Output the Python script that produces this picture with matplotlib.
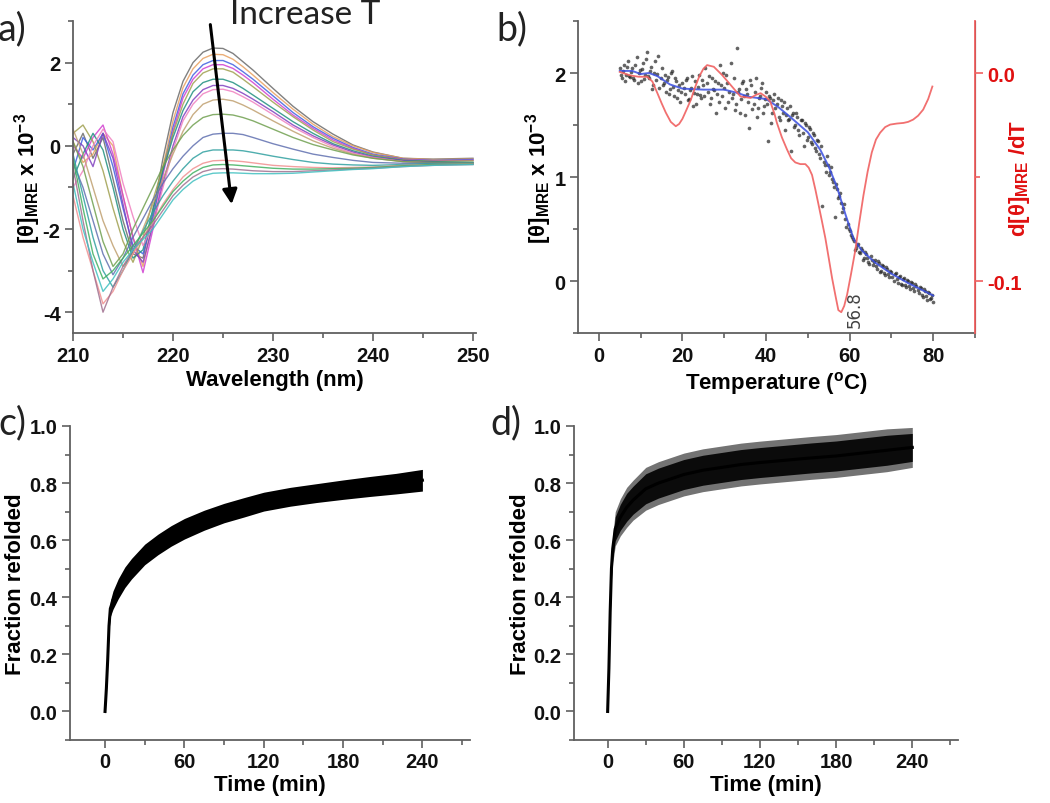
import numpy as np
import matplotlib
matplotlib.use("Agg")
import matplotlib.pyplot as plt
from matplotlib.ticker import MultipleLocator, FormatStrFormatter

plt.rcParams['font.family'] = ['Liberation Sans', 'DejaVu Sans']
plt.rcParams['mathtext.fontset'] = 'custom'
plt.rcParams['mathtext.rm'] = 'Liberation Sans'
plt.rcParams['mathtext.bf'] = 'Liberation Sans:bold'
plt.rcParams['mathtext.default'] = 'bf'
plt.rcParams['axes.unicode_minus'] = False

# ---------------- Panel a: CD spectra ----------------
wavelength = [210, 211, 212, 213, 214, 215, 216, 217, 218, 219, 220, 221, 222, 223,
              224, 225, 226, 227, 228, 230, 232, 234, 236, 238, 240, 243, 246, 250]
spec01 = [-0.2, 0.3, -0.3, 0.2, -0.8, -1.8, -2.6, -2.7, -1.6, -0.3, 0.8, 1.55, 2.0, 2.25, 2.35, 2.34, 2.22, 2.02, 1.82, 1.38, 0.95, 0.58, 0.28, 0.02, -0.15, -0.3, -0.32, -0.3]
spec02 = [0.1, -0.4, -0.2, 0.3, 0.0, -1.2, -2.2, -2.9, -1.8, -0.5, 0.6, 1.4, 1.85, 2.1, 2.2, 2.19, 2.08, 1.9, 1.7, 1.28, 0.88, 0.52, 0.22, 0.0, -0.16, -0.3, -0.33, -0.32]
spec03 = [-0.6, 0.2, -0.1, 0.3, -0.5, -1.5, -2.4, -2.6, -1.7, -0.6, 0.45, 1.25, 1.7, 1.95, 2.05, 2.05, 1.95, 1.78, 1.6, 1.2, 0.8, 0.46, 0.18, -0.04, -0.2, -0.32, -0.35, -0.33]
spec04 = [0.0, -0.3, 0.2, 0.5, -0.2, -1.2, -2.2, -3.05, -2.0, -0.7, 0.35, 1.15, 1.6, 1.85, 1.95, 1.95, 1.86, 1.7, 1.52, 1.12, 0.74, 0.42, 0.14, -0.06, -0.22, -0.33, -0.36, -0.35]
spec05 = [0.3, 0.5, 0.1, -0.6, -1.5, -2.3, -2.8, -2.2, -1.3, -0.5, 0.3, 1.0, 1.5, 1.75, 1.85, 1.85, 1.77, 1.6, 1.42, 1.05, 0.7, 0.38, 0.1, -0.08, -0.22, -0.34, -0.37, -0.36]
spec06 = [-0.8, -0.2, 0.3, -0.1, -1.0, -2.0, -2.7, -2.5, -1.5, -0.6, 0.2, 0.85, 1.3, 1.52, 1.6, 1.6, 1.52, 1.38, 1.22, 0.9, 0.58, 0.3, 0.05, -0.12, -0.25, -0.35, -0.38, -0.4]
spec07 = [0.2, 0.0, -0.5, 0.3, -0.3, -1.4, -2.5, -2.8, -1.9, -0.9, 0.0, 0.7, 1.1, 1.35, 1.45, 1.45, 1.38, 1.26, 1.12, 0.82, 0.5, 0.24, 0.02, -0.15, -0.27, -0.36, -0.4, -0.42]
spec08 = [-1.0, -0.6, 0.0, 0.4, 0.1, -0.9, -1.7, -2.4, -1.9, -1.0, -0.1, 0.6, 1.0, 1.25, 1.35, 1.36, 1.3, 1.18, 1.05, 0.75, 0.45, 0.2, -0.02, -0.18, -0.28, -0.38, -0.42, -0.44]
spec09 = [0.4, -0.2, -1.0, -1.8, -2.4, -2.9, -2.6, -2.0, -1.4, -0.8, -0.2, 0.35, 0.75, 1.0, 1.1, 1.12, 1.08, 0.98, 0.86, 0.6, 0.35, 0.12, -0.06, -0.2, -0.3, -0.38, -0.42, -0.43]
spec10 = [0.1, -0.5, -1.4, -2.3, -2.9, -2.6, -2.0, -1.5, -1.0, -0.5, -0.1, 0.25, 0.5, 0.68, 0.75, 0.76, 0.74, 0.68, 0.6, 0.4, 0.2, 0.03, -0.1, -0.22, -0.3, -0.38, -0.4, -0.4]
spec11 = [-0.4, -1.0, -1.8, -2.6, -3.1, -2.7, -2.2, -1.75, -1.3, -0.9, -0.55, -0.25, 0.0, 0.2, 0.28, 0.3, 0.3, 0.27, 0.2, 0.05, -0.08, -0.2, -0.28, -0.35, -0.4, -0.42, -0.42, -0.42]
spec12 = [-0.2, -1.2, -2.2, -3.0, -3.4, -3.0, -2.5, -2.05, -1.6, -1.2, -0.85, -0.55, -0.3, -0.15, -0.1, -0.1, -0.1, -0.12, -0.16, -0.25, -0.33, -0.4, -0.44, -0.46, -0.47, -0.45, -0.43, -0.42]
spec13 = [-1.2, -2.2, -3.0, -3.8, -3.5, -3.0, -2.6, -2.2, -1.8, -1.4, -1.05, -0.75, -0.55, -0.42, -0.36, -0.35, -0.36, -0.38, -0.41, -0.47, -0.5, -0.52, -0.53, -0.52, -0.51, -0.47, -0.45, -0.43]
spec14 = [-0.3, -1.5, -2.6, -3.2, -3.0, -2.7, -2.4, -2.1, -1.8, -1.45, -1.1, -0.85, -0.65, -0.52, -0.46, -0.45, -0.46, -0.48, -0.5, -0.54, -0.56, -0.56, -0.55, -0.54, -0.52, -0.48, -0.45, -0.44]
spec15 = [-0.5, -1.8, -3.0, -4.0, -3.4, -2.9, -2.5, -2.2, -1.9, -1.55, -1.2, -0.95, -0.75, -0.62, -0.56, -0.55, -0.56, -0.58, -0.6, -0.62, -0.62, -0.6, -0.58, -0.56, -0.54, -0.5, -0.47, -0.45]
spec16 = [-0.9, -2.0, -2.8, -3.5, -3.2, -2.8, -2.5, -2.25, -2.0, -1.65, -1.3, -1.05, -0.85, -0.72, -0.66, -0.65, -0.65, -0.66, -0.67, -0.67, -0.66, -0.63, -0.6, -0.57, -0.55, -0.5, -0.47, -0.45]
spectra = [spec01, spec02, spec03, spec04, spec05, spec06, spec07, spec08,
           spec09, spec10, spec11, spec12, spec13, spec14, spec15, spec16]
spec_colors = ['#6a6a6a', '#e8a060', '#4060e0', '#d040d0', '#a0a050', '#209080',
               '#8040c0', '#f080c0', '#c0a070', '#70a050', '#6070b0', '#30a0a0',
               '#f09090', '#40b060', '#a07090', '#40c0c0']

# ---------------- Panel b: thermal melt ----------------
melt_T1 = np.arange(5, 80.01, 0.5)
melt_vals1 = [2.05, 1.95, 2.08, 1.98, 2.12, 1.96, 2.05, 1.93, 2.15, 2.00,
              1.92, 2.10, 1.98, 2.20, 1.95, 2.06, 1.88, 2.12, 1.99, 1.86,
              2.05, 1.90, 1.82, 1.96, 1.85, 2.02, 1.78, 1.92, 1.84, 1.72,
              1.90, 1.80, 1.95, 1.75, 1.86, 1.68, 1.92, 1.80, 1.98, 1.76,
              1.88, 2.05, 1.82, 1.70, 1.95, 1.84, 1.62, 1.90, 2.08, 1.78,
              1.86, 1.98, 1.72, 2.10, 1.80, 1.64, 2.24, 1.85, 1.75, 1.92,
              1.60, 1.80, 1.47, 1.88, 1.70, 1.95, 1.66, 1.78, 1.90, 1.68,
              1.82, 1.35, 1.76, 1.62, 1.80, 1.70, 1.58, 1.74, 1.62, 1.45,
              1.66, 1.56, 1.25, 1.62, 1.50, 1.58, 1.40, 1.55, 1.30, 1.50,
              1.38, 1.46, 1.32, 1.40, 1.25, 1.35, 1.18, 0.72, 1.12, 1.20,
              1.02, 1.10, 0.95, 0.62, 0.88, 0.82, 0.75, 0.70, 0.60, 0.55,
              0.48, 0.42, 0.38, 0.32, 0.36, 0.27, 0.30, 0.22, 0.26, 0.18,
              0.24, 0.15, 0.20, 0.12, 0.17, 0.10, 0.14, 0.06, 0.12, 0.04,
              0.09, 0.00, 0.08, -0.02, 0.05, -0.04, 0.03, -0.06, 0.00, -0.08,
              -0.02, -0.10, -0.05, -0.12, -0.07, -0.15, -0.10, -0.18, -0.12, -0.16,
              -0.20]
melt_T2 = np.arange(5.25, 79.8, 0.5)
melt_vals2 = [1.98, 2.02, 1.92, 2.06, 1.97, 2.01, 1.95, 2.08, 1.90, 2.03,
              2.04, 1.94, 2.13, 1.97, 2.02, 1.85, 2.00, 1.93, 2.16, 1.95,
              1.88, 1.98, 1.93, 1.80, 2.00, 1.87, 1.95, 1.76, 1.88, 1.82,
              1.86, 1.93, 1.74, 1.84, 1.97, 1.81, 1.70, 1.87, 1.79, 1.93,
              1.78, 1.90, 1.97, 1.76, 1.85, 1.92, 1.80, 1.72, 1.88, 2.00,
              1.66, 1.90, 1.82, 1.76, 1.95, 1.70, 1.82, 1.62, 1.90, 1.78,
              1.85, 1.72, 1.93, 1.65, 1.82, 1.58, 1.76, 1.86, 1.62, 1.75,
              1.70, 1.78, 1.52, 1.74, 1.66, 1.76, 1.55, 1.68, 1.72, 1.60,
              1.55, 1.68, 1.60, 1.48, 1.62, 1.45, 1.55, 1.42, 1.52, 1.36,
              1.48, 1.34, 1.42, 1.28, 1.36, 1.22, 1.30, 1.14, 1.05, 1.12,
              1.05, 0.98, 0.90, 0.93, 0.80, 0.85, 0.66, 0.74, 0.52, 0.50,
              0.44, 0.40, 0.30, 0.35, 0.28, 0.32, 0.20, 0.28, 0.22, 0.16,
              0.20, 0.18, 0.14, 0.19, 0.09, 0.15, 0.08, 0.13, 0.07, 0.10,
              0.04, 0.07, 0.02, 0.04, -0.03, 0.02, -0.04, 0.01, -0.05, -0.01,
              -0.07, -0.03, -0.09, -0.06, -0.13, -0.08, -0.14, -0.11, -0.17, -0.13]
fit_T = [5, 8, 10, 12, 14, 17, 20, 25, 30, 33, 36, 40, 43, 46, 50, 53, 55, 57, 59,
         61, 63, 66, 70, 74, 78, 80]
fit_vals = [2.02, 2.02, 1.99, 2.0, 1.97, 1.89, 1.85, 1.84, 1.84, 1.81, 1.77, 1.75,
            1.67, 1.57, 1.43, 1.26, 1.1, 0.9, 0.64, 0.4, 0.29, 0.18, 0.07, -0.02,
            -0.1, -0.14]
deriv_T = [5.0, 6.0, 7.6, 9.5, 11.6, 12.8, 14.0, 15.0, 16.0, 17.2, 18.4, 19.2, 20.0,
           21.0, 22.0, 23.0, 24.0, 25.0, 25.9, 27.5, 29.5, 31.5, 33.9, 36.3, 37.6,
           38.7, 40.0, 41.0, 42.0, 42.6, 43.8, 45.0, 46.0, 47.0, 48.2, 49.4, 50.2,
           51.0, 51.8, 52.6, 53.4, 54.2, 55.0, 55.8, 56.7, 57.3, 58.0, 58.7, 59.4,
           60.3, 61.3, 62.3, 63.3, 64.3, 65.3, 66.3, 67.3, 68.5, 69.7, 71.3, 72.9,
           74.0, 75.2, 76.4, 77.6, 78.8, 79.8]
deriv_vals = [0.0005, -0.0002, -0.0012, -0.0018, -0.0018, -0.0041, -0.0097, -0.0145,
              -0.019, -0.0235, -0.0256, -0.0245, -0.022, -0.0175, -0.0129, -0.007,
              -0.0017, 0.002, 0.0038, 0.003, -0.001, -0.0057, -0.0113, -0.012,
              -0.0105, -0.0097, -0.0115, -0.0137, -0.0195, -0.024, -0.031, -0.0367,
              -0.041, -0.043, -0.0438, -0.0438, -0.0455, -0.049, -0.056, -0.0637,
              -0.0715, -0.0795, -0.089, -0.0986, -0.108, -0.114, -0.115, -0.112,
              -0.1065, -0.097, -0.0859, -0.072, -0.0589, -0.0475, -0.0382, -0.032,
              -0.0287, -0.026, -0.0248, -0.0243, -0.024, -0.0235, -0.0224, -0.0205,
              -0.0176, -0.0125, -0.0065]
tm_value = 56.8

# ---------------- Panels c, d: refolding kinetics ----------------
time_min = [0, 1, 2, 3, 4, 6, 10, 15, 20, 30, 40, 50, 60, 75, 90, 105, 120, 140,
            160, 180, 200, 220, 240]
c_center = [0.0, 0.08, 0.18, 0.30, 0.36, 0.39, 0.43, 0.47, 0.50, 0.55, 0.585, 0.615,
            0.64, 0.67, 0.695, 0.715, 0.735, 0.752, 0.765, 0.777, 0.788, 0.798, 0.81]
c_halfwidth = [0.01, 0.012, 0.015, 0.02, 0.028, 0.032, 0.035, 0.036, 0.036, 0.036,
               0.036, 0.036, 0.036, 0.035, 0.034, 0.034, 0.033, 0.033, 0.033, 0.034,
               0.035, 0.036, 0.038]
d_center = [0.0, 0.15, 0.35, 0.50, 0.57, 0.64, 0.68, 0.715, 0.74, 0.78, 0.80, 0.815,
            0.83, 0.845, 0.855, 0.865, 0.872, 0.88, 0.888, 0.895, 0.905, 0.915, 0.925]
d_halfwidth = [0.01, 0.02, 0.03, 0.04, 0.05, 0.06, 0.065, 0.07, 0.07, 0.075, 0.075,
               0.075, 0.075, 0.075, 0.075, 0.075, 0.075, 0.075, 0.075, 0.075, 0.075,
               0.075, 0.07]

W, H = 1050, 804
fig = plt.figure(figsize=(W / 100, H / 100), dpi=100)

def px_axes(l, t, r, b):
    return fig.add_axes([l / W, 1 - b / H, (r - l) / W, (b - t) / H])

SP = '#606060'
TFS = 14.5
LFS = 16

def style(ax, right=False):
    ax.spines['top'].set_visible(False)
    if not right:
        ax.spines['right'].set_visible(False)
    for s in ('left', 'bottom'):
        ax.spines[s].set_color(SP)
        ax.spines[s].set_linewidth(1.3)
    ax.tick_params(which='both', direction='out', color=SP, width=1.2)
    ax.tick_params(which='major', length=6, labelsize=TFS, labelcolor='#111111', pad=3)
    ax.tick_params(which='minor', length=3.5)
    for lab in ax.get_xticklabels() + ax.get_yticklabels():
        lab.set_fontweight('bold')

# ---- a ----
axa = px_axes(73, 22, 476, 334)
for y, c in zip(spectra, spec_colors):
    axa.plot(wavelength, y, color=c, lw=1.0, alpha=0.85)
axa.set_xlim(210, 250.3)
axa.set_ylim(-4.5, 3.0)
axa.xaxis.set_major_locator(MultipleLocator(10))
axa.xaxis.set_minor_locator(MultipleLocator(5))
axa.yaxis.set_major_locator(MultipleLocator(2))
axa.yaxis.set_minor_locator(MultipleLocator(1))
style(axa)
axa.set_xlabel('Wavelength (nm)', fontsize=LFS, fontweight='bold', labelpad=3)
axa.set_ylabel(r'[θ]$_{MRE}$ x 10$^{-3}$', fontsize=LFS, fontweight='bold')
axa.yaxis.set_label_coords((43 - 73) / 403, 0.5)
axa.annotate('', xy=(225.9, -1.47), xytext=(223.7, 2.98),
             arrowprops=dict(arrowstyle='-|>', color='black', lw=2.2,
                             mutation_scale=22), annotation_clip=False)

# ---- b ----
axb = px_axes(578, 22, 975, 334)
axb.scatter(melt_T1, melt_vals1, s=7, color='#222222', alpha=0.7, linewidths=0, zorder=2)
axb.scatter(melt_T2, melt_vals2, s=7, color='#222222', alpha=0.7, linewidths=0, zorder=2)
axb.plot(fit_T, fit_vals, color='#3a4ee0', lw=1.4, alpha=0.85, zorder=3)
axb.set_xlim(-5, 90)
axb.set_ylim(-0.5, 2.5)
axb.xaxis.set_major_locator(MultipleLocator(20))
axb.xaxis.set_minor_locator(MultipleLocator(10))
axb.yaxis.set_major_locator(MultipleLocator(1))
axb.yaxis.set_minor_locator(MultipleLocator(0.5))
style(axb, right=True)
axb.set_xlabel(r'Temperature ($^{o}$C)', fontsize=LFS, fontweight='bold', labelpad=3)
axb.set_ylabel(r'[θ]$_{MRE}$ x 10$^{-3}$', fontsize=LFS, fontweight='bold')
axb.yaxis.set_label_coords((554 - 578) / 397, 0.5)
axb.text(61.3, -0.27, '%.1f' % tm_value, rotation=90, fontsize=12, color='#444444',
         ha='center', va='center', family='DejaVu Sans')

axr = axb.twinx()
axr.plot(deriv_T, deriv_vals, color='#f06060', lw=1.3, alpha=0.9)
axr.set_ylim(-0.125, 0.025)
axr.yaxis.set_major_locator(MultipleLocator(0.1))
axr.yaxis.set_minor_locator(MultipleLocator(0.05))
for s in ('top', 'left', 'bottom'):
    axr.spines[s].set_visible(False)
axr.spines['right'].set_color('#f06060')
axr.spines['right'].set_linewidth(1.3)
axr.tick_params(which='both', direction='out', color='#f06060', width=1.2)
axr.tick_params(which='major', length=6, labelsize=TFS, labelcolor='#e01010', pad=3)
axr.tick_params(which='minor', length=3.5)
axr.yaxis.set_major_formatter(FormatStrFormatter('%.1f'))
for lab in axr.get_yticklabels():
    lab.set_fontweight('bold')
axr.set_ylabel(r'd[θ]$_{MRE}$ /dT', fontsize=LFS, fontweight='bold', color='#e01010',
               rotation=90)
axr.yaxis.set_label_coords((1007 - 578) / 397, 0.5)

# ---- c, d ----
def kinetics(ax, center, half, dense, lab_x):
    lo = [c - h for c, h in zip(center, half)]
    hi = [c + h for c, h in zip(center, half)]
    if dense:
        ax.fill_between(time_min, lo, hi, color='black', lw=0)
    else:
        ax.fill_between(time_min, lo, hi, color='black', alpha=0.55, lw=0)
        lo2 = [c - 0.7 * h for c, h in zip(center, half)]
        hi2 = [c + 0.7 * h for c, h in zip(center, half)]
        ax.fill_between(time_min, lo2, hi2, color='black', alpha=0.9, lw=0)
    ax.plot(time_min, center, color='black', lw=2.2)
    ax.set_xlim(-26.5, 276)
    ax.set_ylim(-0.1, 1.0)
    ax.xaxis.set_major_locator(MultipleLocator(60))
    ax.xaxis.set_minor_locator(MultipleLocator(30))
    ax.yaxis.set_major_locator(MultipleLocator(0.2))
    ax.yaxis.set_minor_locator(MultipleLocator(0.1))
    ax.yaxis.set_major_formatter(FormatStrFormatter('%.1f'))
    style(ax)
    ax.set_xlabel('Time (min)', fontsize=LFS, fontweight='bold', labelpad=2)
    ax.set_ylabel('Fraction refolded', fontsize=LFS, fontweight='bold')
    ax.yaxis.set_label_coords(lab_x, 0.5)

axc = px_axes(70, 427, 470, 741)
kinetics(axc, c_center, c_halfwidth, True, (26 - 70) / 400)
axd = px_axes(574, 427, 958, 741)
kinetics(axd, d_center, d_halfwidth, False, (531 - 574) / 384)

# ---- panel letters & annotation ----
PL = dict(fontsize=27, family=['Lato', 'DejaVu Sans'], color='#222222')
fig.text(-2 / W, 1 - 40 / H, 'a)', **PL)
fig.text(496 / W, 1 - 40 / H, 'b)', **PL)
fig.text(-2 / W, 1 - 434 / H, 'c)', **PL)
fig.text(490 / W, 1 - 434 / H, 'd)', **PL)
fig.text(230 / W, 1 - 24 / H, 'Increase T', fontsize=24, family=['Lato', 'DejaVu Sans'],
         color='#222222', va='baseline')

fig.savefig('out.png', dpi=100)
